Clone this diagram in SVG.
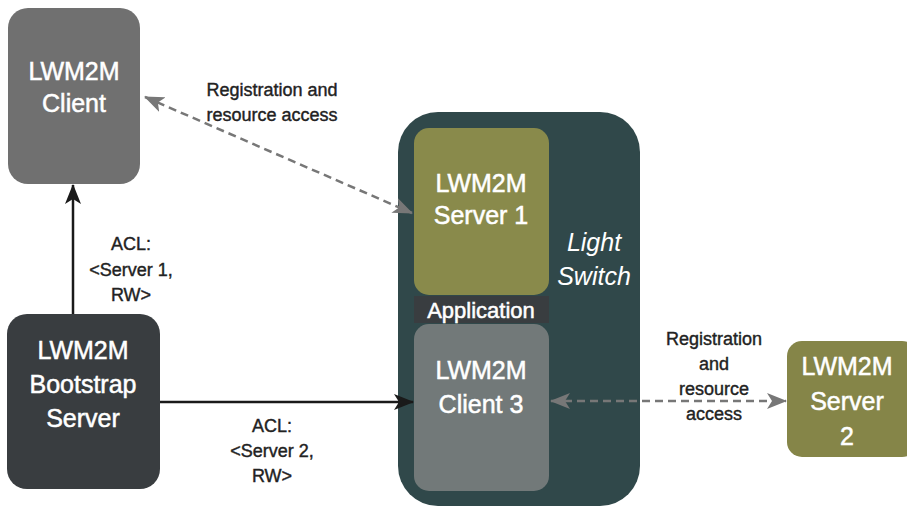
<svg xmlns="http://www.w3.org/2000/svg" width="907" height="506" viewBox="0 0 907 506">
<defs>
<style>
.nt{font-family:"Liberation Sans",Arial,sans-serif;font-size:25px;fill:#fff;stroke:#fff;stroke-width:0.5;text-anchor:middle}
.lb{font-family:"Liberation Sans",Arial,sans-serif;font-size:18px;fill:#222;stroke:#222;stroke-width:0.4;text-anchor:middle}
.it{font-family:"Liberation Sans",Arial,sans-serif;font-size:25px;fill:#fff;text-anchor:middle;font-style:italic}
.solid{stroke:#1a1a1a;stroke-width:2.5;fill:none}
.dash{stroke:#777;stroke-width:2.5;fill:none;stroke-dasharray:8 5}
</style>
<marker id="ab" viewBox="0 0 20 16" refX="19" refY="8" markerWidth="20" markerHeight="16" markerUnits="userSpaceOnUse" orient="auto-start-reverse">
<path d="M0,0 L20,8 L0,16 L5,8 Z" fill="#1a1a1a"/>
</marker>
<marker id="ag" viewBox="0 0 20 16" refX="19" refY="8" markerWidth="20" markerHeight="16" markerUnits="userSpaceOnUse" orient="auto-start-reverse">
<path d="M0,0 L20,8 L0,16 L5,8 Z" fill="#777"/>
</marker>
</defs>
<g id="client">
<rect x="8" y="8" width="132" height="176" rx="20" fill="#707070"/>
<text class="nt" x="74" y="80">LWM2M</text>
<text class="nt" x="74" y="112">Client</text>
</g>
<g id="bootstrap">
<rect x="7" y="314" width="153" height="175" rx="20" fill="#393d40"/>
<text class="nt" x="83" y="359">LWM2M</text>
<text class="nt" x="83" y="393">Bootstrap</text>
<text class="nt" x="83" y="427">Server</text>
</g>
<g id="lightswitch">
<rect x="398" y="112" width="242" height="394" rx="40" fill="#30484a"/>
<text class="it" x="594" y="251">Light</text>
<text class="it" x="594" y="285">Switch</text>
</g>
<g id="server1">
<rect x="414" y="128" width="135" height="167" rx="15" fill="#898a4b"/>
<text class="nt" x="481" y="192">LWM2M</text>
<text class="nt" x="481" y="224">Server 1</text>
</g>
<g id="application">
<rect x="414" y="296" width="135" height="27" fill="#393d40"/>
<text class="nt" x="481" y="318" style="font-size:22px">Application</text>
</g>
<g id="client3">
<rect x="414" y="324" width="135" height="167" rx="15" fill="#727979"/>
<text class="nt" x="481" y="379">LWM2M</text>
<text class="nt" x="481" y="413">Client 3</text>
</g>
<g id="server2">
<rect x="787" y="341" width="130" height="116" rx="15" fill="#858548"/>
<text class="nt" x="847" y="375">LWM2M</text>
<text class="nt" x="847" y="410">Server</text>
<text class="nt" x="847" y="445">2</text>
</g>
<g id="connectors">
<line class="solid" x1="73" y1="314" x2="73" y2="185" marker-end="url(#ab)"/>
<line class="solid" x1="160" y1="402" x2="413" y2="402" marker-end="url(#ab)"/>
<line class="dash" x1="145" y1="97" x2="412" y2="213" marker-start="url(#ag)" marker-end="url(#ag)"/>
<line class="dash" x1="551" y1="401" x2="786" y2="401" marker-start="url(#ag)" marker-end="url(#ag)"/>
</g>
<g id="labels">
<text class="lb" x="272" y="96">Registration and</text>
<text class="lb" x="272" y="121">resource access</text>
<text class="lb" x="131" y="250">ACL:</text>
<text class="lb" x="131" y="276">&lt;Server 1,</text>
<text class="lb" x="131" y="301">RW&gt;</text>
<text class="lb" x="272" y="432">ACL:</text>
<text class="lb" x="272" y="457">&lt;Server 2,</text>
<text class="lb" x="272" y="482">RW&gt;</text>
<text class="lb" x="714" y="345">Registration</text>
<text class="lb" x="714" y="370">and</text>
<text class="lb" x="714" y="395">resource</text>
<text class="lb" x="714" y="420">access</text>
</g>
</svg>
